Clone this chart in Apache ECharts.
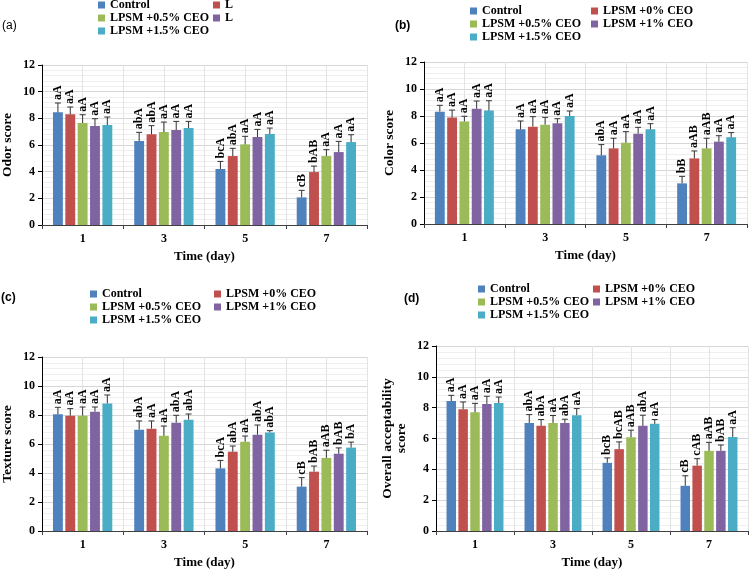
<!DOCTYPE html>
<html>
<head>
<meta charset="utf-8">
<script src="https://cdn.jsdelivr.net/npm/echarts@6/dist/echarts.min.js"></script>
<style>
  html, body { margin: 0; padding: 0; background: #fff; }
  #chart { width: 750px; height: 571px; }
</style>
</head>
<body>
<div id="chart"></div>
<script>
const days = ['1', '3', '5', '7']
const groups = ['Control', 'LPSM +0% CEO', 'LPSM +0.5% CEO', 'LPSM +1% CEO', 'LPSM +1.5% CEO']
const colors = ['#4F81BD', '#C0504D', '#9BBB59', '#8064A2', '#4BACC6']
const yTicks = [0, 2, 4, 6, 8, 10, 12]

// one row per group, one value per day
const odorMean = [[8.45, 6.3, 4.2, 2.07], [8.3, 6.8, 5.17, 3.97], [7.65, 6.97, 6.05, 5.17], [7.42, 7.12, 6.6, 5.47], [7.5, 7.27, 6.82, 6.22]]
const odorErr = [[0.7, 0.65, 0.57, 0.53], [0.55, 0.65, 0.58, 0.45], [0.62, 0.75, 0.6, 0.48], [0.55, 0.65, 0.57, 0.8], [0.6, 0.5, 0.45, 0.55]]
const odorLab = [['aA', 'abA', 'bcA', 'cB'], ['aA', 'abA', 'abA', 'bAB'], ['aA', 'aA', 'aA', 'aA'], ['aA', 'aA', 'aA', 'aA'], ['aA', 'aA', 'aA', 'aA']]

const colorMean = [[8.32, 7.01, 5.09, 3.01], [7.88, 7.21, 5.6, 4.86], [7.6, 7.36, 6.02, 5.6], [8.54, 7.46, 6.69, 6.1], [8.4, 8.0, 7.01, 6.42]]
const colorErr = [[0.47, 0.62, 0.79, 0.52], [0.56, 0.74, 0.75, 0.55], [0.38, 0.54, 0.82, 0.75], [0.57, 0.34, 0.47, 0.44], [0.73, 0.37, 0.42, 0.35]]
const colorLab = [['aA', 'aA', 'abA', 'bB'], ['aA', 'aA', 'aA', 'aAB'], ['aA', 'aA', 'aA', 'aAB'], ['aA', 'aA', 'aA', 'aA'], ['aA', 'aA', 'aA', 'aA']]

const textureMean = [[8.05, 6.99, 4.32, 3.06], [7.95, 7.06, 5.47, 4.09], [7.95, 6.57, 6.16, 5.04], [8.23, 7.47, 6.64, 5.33], [8.8, 7.68, 6.8, 5.75]]
const textureErr = [[0.48, 0.6, 0.55, 0.62], [0.49, 0.53, 0.39, 0.39], [0.6, 0.67, 0.39, 0.53], [0.32, 0.51, 0.67, 0.4], [0.58, 0.39, 0.12, 0.38]]
const textureLab = [['aA', 'abA', 'bcA', 'cB'], ['aA', 'aA', 'abA', 'bAB'], ['aA', 'aA', 'aA', 'aAB'], ['aA', 'abA', 'abA', 'bAB'], ['aA', 'abA', 'abA', 'bA']]

const overallMean = [[8.43, 7.01, 4.42, 2.93], [7.9, 6.82, 5.31, 4.24], [7.7, 7.01, 6.08, 5.2], [8.24, 7.01, 6.82, 5.2], [8.3, 7.51, 6.95, 6.1]]
const overallErr = [[0.37, 0.54, 0.32, 0.65], [0.47, 0.41, 0.47, 0.45], [0.58, 0.48, 0.46, 0.55], [0.5, 0.24, 0.69, 0.38], [0.39, 0.43, 0.28, 0.6]]
const overallLab = [['aA', 'abA', 'bcB', 'cB'], ['aA', 'abA', 'bcAB', 'cAB'], ['aA', 'aA', 'aAB', 'aAB'], ['aA', 'abA', 'abA', 'bAB'], ['aA', 'aA', 'aA', 'aA']]

const SERIF = '"Liberation Serif", "Times New Roman", serif'
const CAT_GAP = 0.27
const BAR_GAP = 0.25

const panels = [
  { tag: '(a)', yName: 'Odor score', mean: odorMean, err: odorErr, lab: odorLab,
    grid: { left: 42, top: 65, width: 325, height: 160 }, tagPos: [2, 20], tagBold: false,
    leg: [98, 213, -1], cutSecond: true },
  { tag: '(b)', yName: 'Color score', mean: colorMean, err: colorErr, lab: colorLab,
    grid: { left: 424, top: 62, width: 323, height: 162 }, tagPos: [395, 20], tagBold: true,
    leg: [470, 591, 5] },
  { tag: '(c)', yName: 'Texture score', mean: textureMean, err: textureErr, lab: textureLab,
    grid: { left: 42, top: 357, width: 325, height: 174 }, tagPos: [1, 292], tagBold: true,
    leg: [90, 214, 288] },
  { tag: '(d)', yName: 'Overall acceptability\nscore', mean: overallMean, err: overallErr, lab: overallLab,
    grid: { left: 436, top: 346, width: 312, height: 185 }, tagPos: [404, 293], tagBold: true,
    leg: [478, 593, 283] }
]

const option = {
  animation: false,
  backgroundColor: '#fff',
  grid: [], xAxis: [], yAxis: [], legend: [], series: [], graphic: []
}

const labelFont = { fontFamily: SERIF, fontWeight: 'bold', fontSize: 12, color: '#000' }

panels.forEach((p, i) => {
  option.grid.push(Object.assign({ containLabel: false }, p.grid))

  // category axis
  option.xAxis.push({
    type: 'category', gridIndex: i, data: days,
    name: 'Time (day)', nameLocation: 'middle', nameGap: 25,
    nameTextStyle: { fontFamily: SERIF, fontWeight: 'bold', fontSize: 13, color: '#000' },
    axisLine: { lineStyle: { color: '#404040', width: 1 } },
    axisTick: { show: true, length: 4, lineStyle: { color: '#404040' } },
    axisLabel: Object.assign({ margin: 8 }, labelFont),
    splitLine: { show: true, lineStyle: { color: '#cdcdcd', width: 1 } }
  })
  // light lines through the middle of each day
  option.xAxis.push({
    type: 'value', gridIndex: i, min: 0, max: 8, interval: 1, position: 'top',
    axisLine: { show: false }, axisTick: { show: false }, axisLabel: { show: false },
    splitLine: { show: true, lineStyle: { color: '#e3e3e3', width: 1 } }
  })

  option.yAxis.push({
    type: 'value', gridIndex: i, min: 0, max: 12, interval: 2,
    name: p.yName, nameLocation: 'middle', nameGap: 27,
    nameTextStyle: { fontFamily: SERIF, fontWeight: 'bold', fontSize: 13.5, color: '#000', lineHeight: 14 },
    axisLine: { show: true, lineStyle: { color: '#000', width: 1 } },
    axisTick: { show: true, length: 4, lineStyle: { color: '#000' } },
    axisLabel: Object.assign({ margin: 7, formatter: v => yTicks.includes(v) ? String(v) : '' }, labelFont),
    splitLine: { show: true, lineStyle: { color: '#d6d6d6', width: 1 } },
    minorTick: { show: false, splitNumber: 5 },
    minorSplitLine: { show: true, lineStyle: { color: '#efefef', width: 1 } }
  })

  const legText = { fontFamily: SERIF, fontWeight: 'bold', fontSize: 12, color: '#000', lineHeight: 12 }
  option.legend.push({
    data: [groups[0], groups[2], groups[4]], orient: 'vertical',
    left: p.leg[0], top: p.leg[2], padding: 0, itemGap: 1,
    itemWidth: 7, itemHeight: 7, icon: 'rect', selectedMode: false,
    textStyle: legText
  })
  option.legend.push({
    data: [groups[1], groups[3]], orient: 'vertical',
    left: p.leg[1], top: p.leg[2], padding: 0, itemGap: 1,
    itemWidth: 7, itemHeight: 7, icon: 'rect', selectedMode: false,
    textStyle: p.cutSecond
      ? Object.assign({ width: 10, overflow: 'truncate', ellipsis: '' }, legText)
      : legText
  })

  groups.forEach((g, k) => {
    option.series.push({
      type: 'bar', name: g, xAxisIndex: i * 2, yAxisIndex: i,
      data: p.mean[k],
      barCategoryGap: (CAT_GAP * 100) + '%', barGap: (BAR_GAP * 100) + '%',
      itemStyle: { color: colors[k] }
    })
  })

  // error bars + significance letters
  const rows = []
  groups.forEach((g, k) => days.forEach((d, j) => rows.push([j, p.mean[k][j], p.err[k][j], k])))
  option.series.push({
    type: 'custom', xAxisIndex: i * 2, yAxisIndex: i, z: 5, silent: true,
    data: rows, encode: { x: 0, y: 1 },
    renderItem: (params, api) => {
      const r = rows[params.dataIndex]
      const n = groups.length
      const band = api.size([1, 0])[0]
      const w = band * (1 - CAT_GAP) / (n + (n - 1) * BAR_GAP)
      const total = n * w + (n - 1) * BAR_GAP * w
      const base = api.coord([r[0], 0])
      const cx = base[0] - total / 2 + r[3] * w * (1 + BAR_GAP) + w / 2
      const yTop = api.coord([r[0], r[1]])[1]
      const yErr = api.coord([r[0], r[1] + r[2]])[1]
      return {
        type: 'group',
        children: [
          { type: 'line', shape: { x1: cx, y1: yTop, x2: cx, y2: yErr }, style: { stroke: '#333', lineWidth: 1 } },
          { type: 'line', shape: { x1: cx - 3, y1: yErr, x2: cx + 3, y2: yErr }, style: { stroke: '#333', lineWidth: 1 } },
          {
            type: 'text', x: cx, y: yErr - 3, rotation: Math.PI / 2,
            style: { text: p.lab[r[3]][r[0]], align: 'left', verticalAlign: 'middle',
              font: 'bold 12px ' + SERIF, fill: '#000' }
          }
        ]
      }
    }
  })

  option.graphic.push({
    type: 'text', left: p.tagPos[0], top: p.tagPos[1],
    style: { text: p.tag, font: (p.tagBold ? 'bold ' : '') + '12px "Liberation Sans", Arial, sans-serif', fill: '#000' }
  })
})

const chart = echarts.init(document.getElementById('chart'))
chart.setOption(option)
window.addEventListener('resize', () => chart.resize())
</script>
</body>
</html>
